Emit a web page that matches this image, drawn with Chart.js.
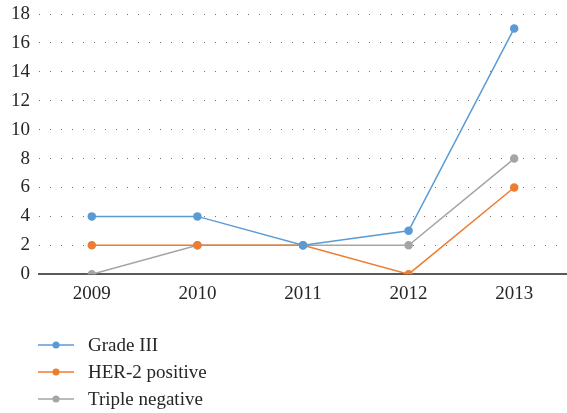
<!DOCTYPE html>
<html>
<head>
<meta charset="utf-8">
<script src="https://cdn.jsdelivr.net/npm/chart.js@4.4.0/dist/chart.umd.min.js"></script>
<style>
  html, body { margin: 0; padding: 0; background: #fff; }
  #wrap { width: 567px; height: 413px; position: relative; }
</style>
</head>
<body>
<div id="wrap"><canvas id="chart"></canvas></div>
<script>
// data
const years = ['2009', '2010', '2011', '2012', '2013'];
const gradeIII = [4, 4, 2, 3, 17];
const her2Positive = [2, 2, 2, 0, 6];
const tripleNegative = [0, 2, 2, 2, 8];
const yTicks = [0, 2, 4, 6, 8, 10, 12, 14, 16, 18];

const FONT = '"Liberation Serif", "DejaVu Serif", serif';

function series(label, data, color) {
  return {
    label: label,
    data: data,
    borderColor: color,
    backgroundColor: color,
    borderWidth: 1.5,
    pointRadius: 3.5,
    pointHoverRadius: 3.5,
    tension: 0
  };
}

// legend drawn as a vertical list under the plot
const bottomLegend = {
  id: 'bottomLegend',
  afterDraw(chart) {
    const ctx = chart.ctx;
    ctx.save();
    ctx.font = '19px ' + FONT;
    ctx.textBaseline = 'middle';
    chart.data.datasets.forEach((ds, i) => {
      const y = 345 + i * 27;
      ctx.strokeStyle = ds.borderColor;
      ctx.lineWidth = 1.5;
      ctx.beginPath();
      ctx.moveTo(38, y);
      ctx.lineTo(74, y);
      ctx.stroke();
      ctx.fillStyle = ds.borderColor;
      ctx.beginPath();
      ctx.arc(56, y, 3.5, 0, Math.PI * 2);
      ctx.fill();
      ctx.fillStyle = '#262626';
      ctx.fillText(ds.label, 88, y + 1);
    });
    ctx.restore();
  }
};

new Chart(document.getElementById('chart'), {
  type: 'line',
  data: {
    labels: years,
    datasets: [
      series('Grade III', gradeIII, '#5b9bd5'),
      series('HER-2 positive', her2Positive, '#ed7d31'),
      series('Triple negative', tripleNegative, '#a5a5a5')
    ]
  },
  options: {
    responsive: true,
    maintainAspectRatio: false,
    animation: false,
    layout: { autoPadding: false, padding: { top: 14, right: 0, left: 0, bottom: 108 } },
    plugins: { legend: { display: false }, tooltip: { enabled: false } },
    scales: {
      x: {
        offset: true,
        afterFit(scale) { scale.paddingRight = 0; scale.paddingLeft = 0; },
        grid: { display: false },
        border: { display: true, color: '#595959', width: 2 },
        ticks: { color: '#262626', font: { family: FONT, size: 19 }, padding: 0 }
      },
      y: {
        min: 0,
        max: 18,
        afterFit(scale) { scale.width = 39; scale.paddingTop = 0; scale.paddingBottom = 0; },
        afterBuildTicks(scale) { scale.ticks = yTicks.map(v => ({ value: v })); },
        grid: { color: '#737373', lineWidth: 1, drawTicks: false },
        border: { display: false, dash: [1, 10] },
        ticks: { color: '#262626', font: { family: FONT, size: 19 }, padding: 9 }
      }
    }
  },
  plugins: [bottomLegend]
});
</script>
</body>
</html>
